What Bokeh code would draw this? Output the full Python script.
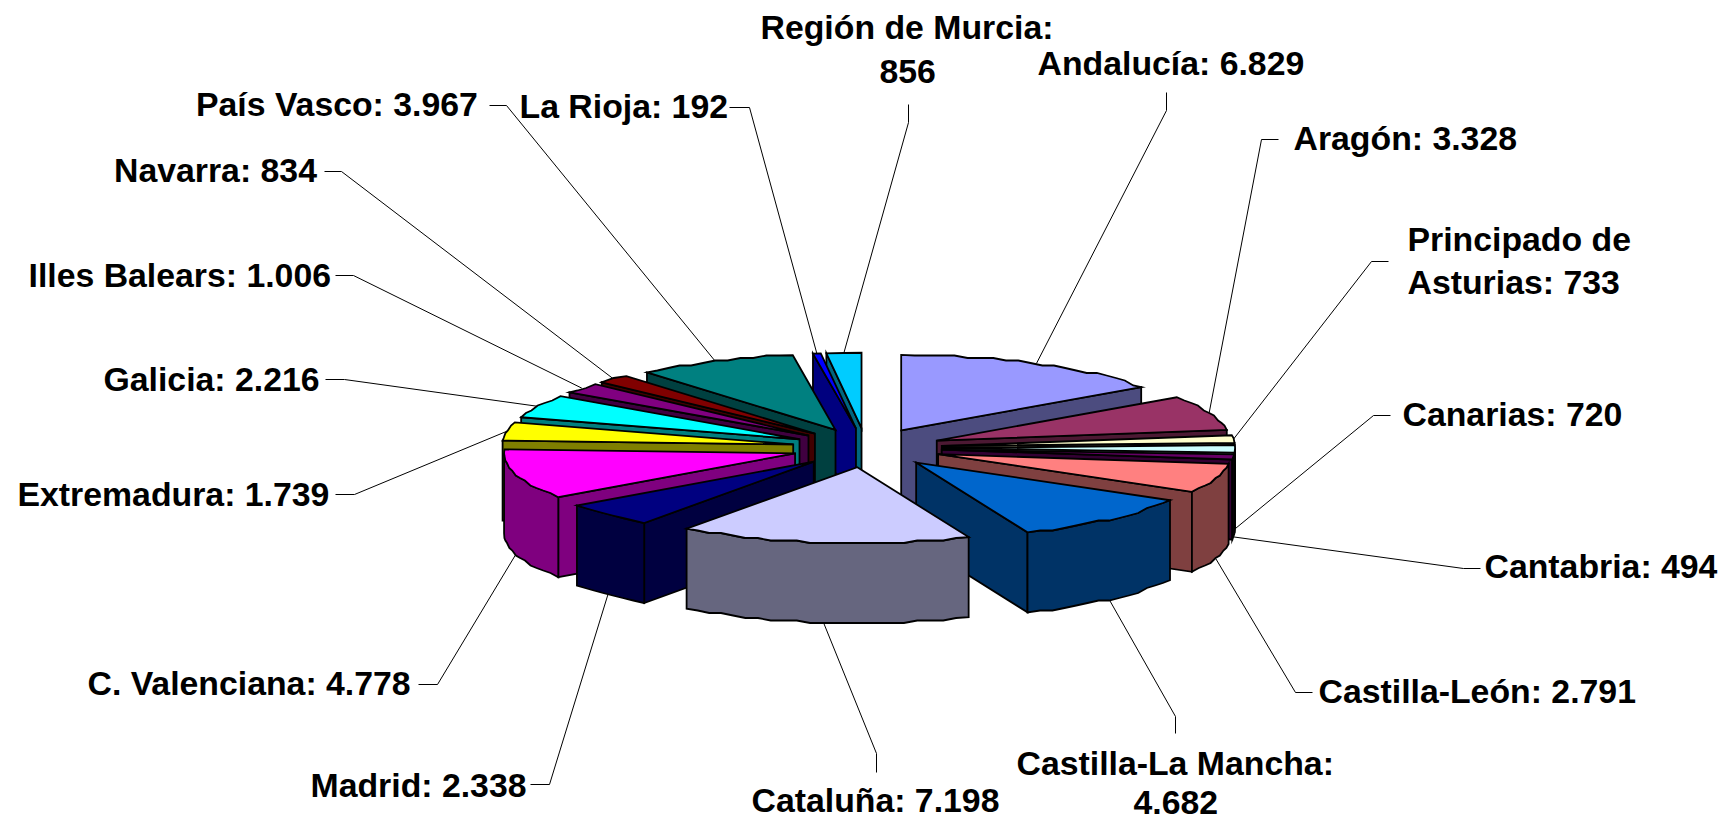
import math
from bokeh.plotting import figure
from bokeh.models import Range1d
from bokeh.embed import file_html
from bokeh.resources import INLINE
from bokeh.core.properties import value

regions = ["Andalucía", "Aragón", "Principado de Asturias", "Canarias", "Cantabria",
           "Castilla-León", "Castilla-La Mancha", "Cataluña", "Madrid", "C. Valenciana",
           "Extremadura", "Galicia", "Illes Balears", "Navarra", "País Vasco",
           "La Rioja", "Región de Murcia"]
values = [6829, 3328, 733, 720, 494, 2791, 4682, 7198, 2338, 4778, 1739, 2216, 1006, 834, 3967, 192, 856]
top_colors = ["#9999FF", "#993366", "#FFFFCC", "#CCFFFF", "#660066", "#FF8080", "#0066CC", "#CCCCFF",
              "#000080", "#FF00FF", "#FFFF00", "#00FFFF", "#800080", "#800000", "#008080", "#0000FF", "#00CCFF"]

# --- pie geometry, in page pixels
CX, CY = 865.6, 447.3
R_RIGHT, R_LEFT, KR = 293.0, 291.0, 75.5
EXPLODE_RIGHT, EXPLODE_LEFT, EK = 76.0, 74.0, 19.6
DEPTH = 80.0
SNAP = 2.5


def darker(c):
    r, g, b = int(c[1:3], 16), int(c[3:5], 16), int(c[5:7], 16)
    return "#%02X%02X%02X" % (r // 2, g // 2, b // 2)


def fmt(v):
    return f"{v:,}".replace(",", ".")


# --- label layout: text lines with left edge / middle y, leader's label end and elbow
label_layout = {
    "Andalucía": ([("Andalucía: {}", 1037, 62)], (1166, 92), (1166, 110)),
    "Aragón": ([("Aragón: {}", 1293, 137)], (1278, 139), (1261, 139)),
    "Principado de Asturias": ([("Principado de", 1407, 238.5), ("Asturias: {}", 1407, 281.5)], (1388, 261), (1371, 261)),
    "Canarias": ([("Canarias: {}", 1402, 413)], (1390, 415), (1373, 415)),
    "Cantabria": ([("Cantabria: {}", 1484, 565)], (1480, 568), (1463, 568)),
    "Castilla-León": ([("Castilla-León: {}", 1318, 690)], (1312, 692), (1295, 692)),
    "Castilla-La Mancha": ([("Castilla-La Mancha:", 1016, 762), ("{}", 1133, 802)], (1175, 733), (1175, 716)),
    "Cataluña": ([("Cataluña: {}", 751, 799)], (876, 772), (876, 753)),
    "Madrid": ([("Madrid: {}", 310, 784)], (530, 784), (549, 784)),
    "C. Valenciana": ([("C. Valenciana: {}", 87, 682)], (418, 684), (437, 684)),
    "Extremadura": ([("Extremadura: {}", 17, 493)], (335, 494), (354, 494)),
    "Galicia": ([("Galicia: {}", 103, 378)], (325, 379), (344, 379)),
    "Illes Balears": ([("Illes Balears: {}", 28, 274)], (335, 275), (353, 275)),
    "Navarra": ([("Navarra: {}", 113.5, 169)], (324, 171), (341, 171)),
    "País Vasco": ([("País Vasco: {}", 195.5, 103)], (489, 105), (506, 105)),
    "La Rioja": ([("La Rioja: {}", 519, 105)], (729, 107), (749, 107)),
    "Región de Murcia": ([("Región de Murcia:", 760, 26), ("{}", 879, 70.5)], (908, 104), (908, 122)),
}

total = sum(values)
slices = []
acc = 0.0
for name, v, col in zip(regions, values, top_colors):
    a = acc / total * 2 * math.pi
    acc += v
    b = acc / total * 2 * math.pi
    slices.append(dict(name=name, v=v, col=col, a=a, b=b, m=(a + b) / 2))


def apex(s):
    ex = EXPLODE_RIGHT if math.sin(s["m"]) > -0.2 else EXPLODE_LEFT
    return CX + ex * math.sin(s["m"]), CY - EK * math.cos(s["m"])


def rim_point(s, t):
    ax, ay = apex(s)
    r = R_RIGHT if math.sin(s["m"]) > -0.2 else R_LEFT
    return ax + r * math.sin(t), ay - KR * math.cos(t)


def rim(s, t0, t1):
    n = max(1, int((t1 - t0) / math.radians(2.6)))
    pts = []
    for i in range(n + 1):
        x, y = rim_point(s, t0 + (t1 - t0) * i / n)
        if 0 < i < n:
            y = round(y / SNAP) * SNAP
        pts.append((x, y))
    return pts


xs, ys, fills = [], [], []


def add(poly, fill):
    xs.append([p[0] for p in poly])
    ys.append([p[1] for p in poly])
    fills.append(fill)


for s in sorted(slices, key=lambda q: -math.cos(q["m"])):
    side = darker(s["col"])
    ax, ay = apex(s)
    p0, p1 = rim_point(s, s["a"]), rim_point(s, s["b"])
    if math.sin(s["a"]) < 0:
        add([(ax, ay), p0, (p0[0], p0[1] + DEPTH), (ax, ay + DEPTH)], side)
    if math.sin(s["b"]) > 0:
        add([(ax, ay), p1, (p1[0], p1[1] + DEPTH), (ax, ay + DEPTH)], side)
    t0, t1 = max(s["a"], math.pi / 2), min(s["b"], 3 * math.pi / 2)
    if t1 > t0:
        arc = rim(s, t0, t1)
        add(arc + [(x, y + DEPTH) for x, y in reversed(arc)], side)
    add([(ax, ay)] + rim(s, s["a"], s["b"]), s["col"])

lx, ly = [], []
tx, ty, tt = [], [], []
for s in slices:
    lines, start, elbow = label_layout[s["name"]]
    ex, ey = rim_point(s, s["m"])
    if math.cos(s["m"]) < 0:
        ey += DEPTH
    lx.append([start[0], elbow[0], ex])
    ly.append([start[1], elbow[1], ey])
    for t, x, y in lines:
        tt.append(t.format(fmt(s["v"])))
        tx.append(x)
        ty.append(y)

p = figure(width=1722, height=822, output_backend="svg", toolbar_location=None,
           x_range=Range1d(0, 1722), y_range=Range1d(822, 0), min_border=0, outline_line_color=None)
p.axis.visible = False
p.grid.visible = False
p.background_fill_color = "white"

p.multi_line(lx, ly, line_color="#000000", line_width=1)
p.patches(xs, ys, fill_color=fills, line_color="#000000", line_width=1.8, line_join="miter")
p.text(tx, ty, text=tt, text_font=value("Liberation Sans"), text_font_style="bold",
       text_font_size="33.8px", text_color="#000000", text_align="left", text_baseline="middle")

open("out.html", "w").write(file_html(p, INLINE))
